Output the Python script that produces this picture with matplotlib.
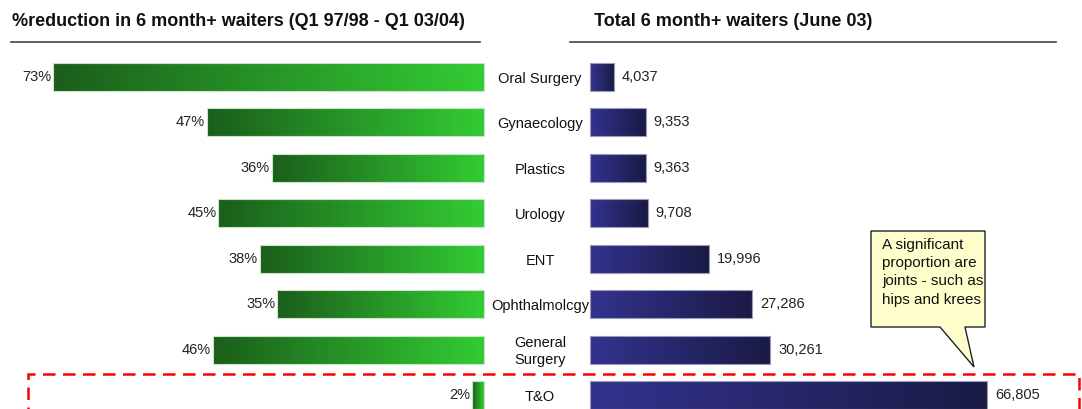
import numpy as np
import matplotlib.pyplot as plt
from matplotlib.colors import LinearSegmentedColormap
from matplotlib.patches import Rectangle, Polygon

plt.rcParams['font.family'] = ['Liberation Sans', 'DejaVu Sans']

categories = ["Oral Surgery", "Gynaecology", "Plastics", "Urology", "ENT",
              "Ophthalmolcgy", "General\nSurgery", "T&O"]
pct_reduction = [73, 47, 36, 45, 38, 35, 46, 2]
waiters = [4037, 9353, 9363, 9708, 19996, 27286, 30261, 66805]

title_left = "%reduction in 6 month+ waiters (Q1 97/98 - Q1 03/04)"
title_right = "Total 6 month+ waiters (June 03)"
note = "A significant\nproportion are\njoints - such as\nhips and krees"

green = LinearSegmentedColormap.from_list("g", ["#1b5e1b", "#33cc33"])
blue = LinearSegmentedColormap.from_list("b", ["#33338f", "#1a1a45"])

W, H = 1082, 409
fig = plt.figure(figsize=(W / 100, H / 100), dpi=100)

def fx(px):
    return px / W

def fy(py):
    return 1 - py / H

# axes: top at 50 px, bottom at 409 px
top_px, bot_px = 50, 409
step = 45.43
y0 = -(77 - top_px) / step
y1 = y0 + (bot_px - top_px) / step
bh = 28 / step
ypos = np.arange(len(categories))

axL = fig.add_axes([fx(10), fy(bot_px), fx(474), (bot_px - top_px) / H])
axR = fig.add_axes([fx(590), fy(bot_px), fx(470), (bot_px - top_px) / H])

grad = np.linspace(0, 1, 256).reshape(1, -1)
for y, v in zip(ypos, pct_reduction):
    axL.imshow(grad, cmap=green, aspect="auto",
               extent=(v, 0, y + bh / 2, y - bh / 2), zorder=2, clip_on=False)
    axL.add_patch(Rectangle((0, y - bh / 2), v, bh, fill=False,
                            ec="#c8e6c8", lw=0.8, zorder=3, clip_on=False))
    axL.text(v + 0.3, y, f"{v}%", ha="right", va="center", fontsize=10.5,
             color="#222222", clip_on=False)

for y, v in zip(ypos, waiters):
    axR.imshow(grad, cmap=blue, aspect="auto",
               extent=(0, v, y + bh / 2, y - bh / 2), zorder=2, clip_on=False)
    axR.add_patch(Rectangle((0, y - bh / 2), v, bh, fill=False,
                            ec="#9a9ac0", lw=0.8, zorder=3, clip_on=False))
    axR.text(v + 1350, y, f"{v:,}", ha="left", va="center", fontsize=10.5,
             color="#222222", clip_on=False)

axL.set_xlim(474 / 5.9, 0)
axR.set_xlim(0, 470 / 5.95 * 1000)
for ax in (axL, axR):
    ax.set_ylim(y1, y0)
    ax.axis("off")

for y, c in zip(ypos, categories):
    fig.text(fx(540), fy(top_px + (y - y0) * step + 2), c, ha="center",
             va="center", fontsize=10.5, color="#111111", linespacing=1.3)

# titles and rules
fig.text(fx(12), fy(22), title_left, ha="left", va="center", fontsize=13,
         fontweight="bold", color="#111111")
fig.text(fx(594), fy(22), title_right, ha="left", va="center", fontsize=13,
         fontweight="bold", color="#111111")
fig.add_artist(plt.Line2D([fx(11), fx(480)], [fy(42), fy(42)], color="#444444", lw=1.2))
fig.add_artist(plt.Line2D([fx(570), fx(1056)], [fy(42), fy(42)], color="#444444", lw=1.2))

# red dashed frame around T&O
fig.add_artist(Rectangle((fx(28), fy(420)), fx(1051), (420 - 374) / H,
                         transform=fig.transFigure, fill=False, ec="red",
                         lw=1.8, ls=(0, (5, 3))))

# callout
box = Polygon([(fx(871), fy(231)), (fx(985), fy(231)), (fx(985), fy(327)),
               (fx(965), fy(327)), (fx(974), fy(367)), (fx(940), fy(327)),
               (fx(871), fy(327))], closed=True, transform=fig.transFigure,
              fc="#ffffcc", ec="#222222", lw=1.0)
fig.add_artist(box)
fig.text(fx(882), fy(238), note, ha="left", va="top", fontsize=11,
         color="#111111", linespacing=1.38)

fig.savefig("out.png", dpi=100)
